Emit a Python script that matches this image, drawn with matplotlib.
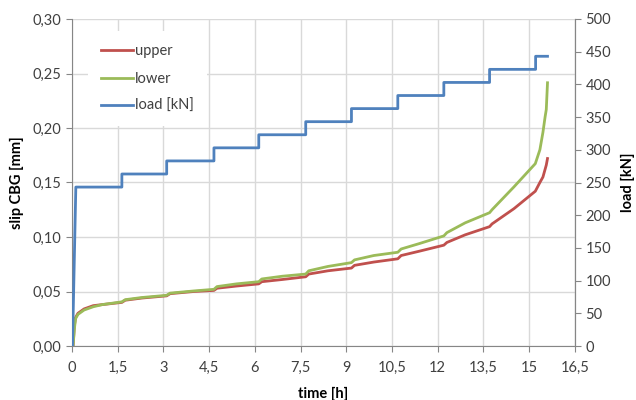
import numpy as np
import matplotlib.pyplot as plt
from matplotlib.ticker import FuncFormatter

plt.rcParams['font.family'] = ['Lato', 'DejaVu Sans']

# slip measurements [mm] over time [h]
time_h = [0.04, 0.08, 0.12, 0.2, 0.4, 0.7, 1.0, 1.64, 1.75, 2.3, 3.11, 3.22, 4.0,
          4.66, 4.76, 5.4, 6.13, 6.23, 6.9, 7.67, 7.77, 8.4, 9.17, 9.27, 9.9, 10.69,
          10.8, 11.4, 12.2, 12.3, 12.9, 13.7, 13.78, 14.5, 15.2, 15.35, 15.45, 15.52,
          15.56, 15.6]
slip_upper = [0.0, 0.018, 0.026, 0.030, 0.034, 0.037, 0.038, 0.040, 0.042, 0.044,
              0.046, 0.048, 0.050, 0.051, 0.053, 0.055, 0.057, 0.059, 0.061, 0.0635,
              0.066, 0.069, 0.0715, 0.074, 0.077, 0.080, 0.083, 0.087, 0.0925, 0.095,
              0.102, 0.1095, 0.112, 0.126, 0.142, 0.150, 0.155, 0.162, 0.166, 0.172]
slip_lower = [0.0, 0.015, 0.025, 0.029, 0.033, 0.036, 0.038, 0.0405, 0.0425, 0.0445,
              0.0465, 0.0485, 0.0505, 0.052, 0.0545, 0.057, 0.059, 0.0615, 0.064, 0.066,
              0.069, 0.073, 0.0765, 0.079, 0.083, 0.086, 0.089, 0.094, 0.101, 0.104,
              0.113, 0.1223, 0.125, 0.146, 0.1673, 0.180, 0.196, 0.210, 0.217, 0.2415]

# load steps [kN]: start of each hold and its level
step_start_h = [0.13, 1.64, 3.11, 4.66, 6.13, 7.67, 9.17, 10.69, 12.2, 13.7, 15.21]
step_load_kn = [243, 263, 283, 303, 323, 343, 363, 383, 403, 423, 443]
load_start_h = 0.02
load_end_h = 15.6

# staircase for the load curve
lx = [load_start_h]
ly = [0]
for i, (t, kn) in enumerate(zip(step_start_h, step_load_kn)):
    lx.append(t)
    ly.append(kn)
    t_next = step_start_h[i + 1] if i + 1 < len(step_start_h) else load_end_h
    lx.append(t_next)
    ly.append(kn)

red = '#C0504D'
green = '#9BBB59'
blue = '#4F81BD'
axcol = '#868686'
gridcol = '#D9D9D9'

fig = plt.figure(figsize=(6.36, 4.0), dpi=100)
ax = fig.add_axes([0.113, 0.135, 0.791, 0.8175])
ax2 = ax.twinx()

l1, = ax.plot(time_h, slip_upper, color=red, lw=2.0, label='upper')
l2, = ax.plot(time_h, slip_lower, color=green, lw=2.0, label='lower')
l3, = ax2.plot(lx, ly, color=blue, lw=2.0, label='load [kN]')

ax.set_xlim(0, 16.5)
ax.set_ylim(0, 0.30)
ax2.set_ylim(0, 500)
ax.set_xticks(np.arange(0, 16.51, 1.5))
ax.set_yticks(np.arange(0, 0.301, 0.05))
ax2.set_yticks(np.arange(0, 501, 50))

ax.xaxis.set_major_formatter(FuncFormatter(
    lambda v, p: ('%g' % v).replace('.', ',')))
ax.yaxis.set_major_formatter(FuncFormatter(
    lambda v, p: ('%.2f' % v).replace('.', ',')))

ax.grid(True, color=gridcol, lw=1.0)
ax.set_axisbelow(True)

for a in (ax, ax2):
    for s in a.spines.values():
        s.set_color(axcol)
    a.spines['top'].set_visible(False)
    a.tick_params(colors=axcol, labelcolor='#404040', labelsize=10.5,
                  length=4, direction='out')
ax2.spines['left'].set_visible(False)
ax2.spines['bottom'].set_visible(False)
ax.tick_params(axis='x', pad=7)

lab = dict(fontsize=10.5, fontweight='bold', color='black')
ax.set_xlabel('time [h]', labelpad=8, **lab)
ax.set_ylabel('slip CBG [mm]', labelpad=6, **lab)
ax2.set_ylabel('load [kN]', labelpad=7, **lab)

leg = ax2.legend(handles=[l1, l2, l3], loc='upper left',
                 bbox_to_anchor=(0.018, 0.985), frameon=True, fancybox=False,
                 edgecolor='none', facecolor='white', framealpha=1,
                 fontsize=10.5, handlelength=2.2, handletextpad=0.1,
                 labelspacing=0.92, borderpad=0.9)
for t in leg.get_texts():
    t.set_color('#404040')

fig.savefig('out.png', dpi=100)
